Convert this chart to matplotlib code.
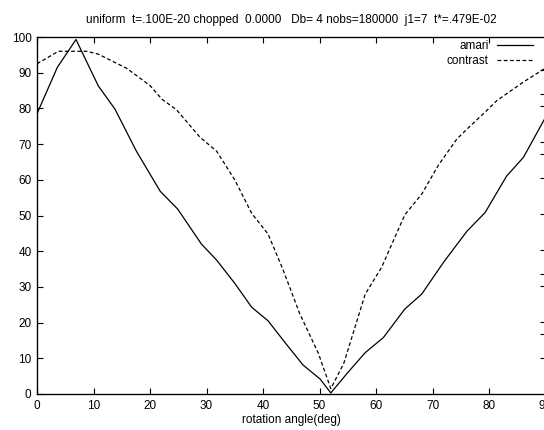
import numpy as np
import matplotlib
matplotlib.use("Agg")
import matplotlib.pyplot as plt

plt.rcParams['font.family'] = ['Liberation Sans', 'DejaVu Sans']
plt.rcParams['font.size'] = 8.5

# values
amari_x = [0, 3.6, 6.9, 10.85, 13.8, 17.6, 21.8, 24.9, 29.1, 31.8, 35.0, 38.0, 40.9,
           44.0, 47.1, 50.1, 52.0, 55.0, 58.1, 61.3, 65.1, 68.1, 72.0, 76.1, 79.3,
           83.1, 86.1, 90.0]
amari_y = [78.5, 91.5, 99.3, 86.3, 79.8, 68.0, 56.8, 51.8, 42.0, 37.5, 31.0, 24.3, 20.5,
           14.2, 8.1, 4.2, 0.3, 6.0, 11.6, 15.8, 23.8, 28.0, 37.0, 45.6, 50.8,
           61.0, 66.3, 77.5]

contrast_x = [0, 3.8, 8.8, 10.85, 15.9, 20.0, 22.1, 24.7, 28.8, 31.8, 35.0, 38.0, 40.9,
              43.5, 46.5, 49.8, 52.0, 54.3, 58.1, 61.0, 65.1, 68.1, 71.0, 74.3, 76.1,
              79.6, 81.4, 86.1, 90.0]
contrast_y = [92.5, 96.0, 96.0, 95.2, 91.2, 86.4, 82.6, 79.6, 72.0, 68.0, 60.0, 50.6, 44.8,
              35.0, 22.5, 11.4, 1.5, 8.6, 28.0, 35.5, 50.2, 56.0, 64.0, 71.4, 74.2,
              79.4, 82.2, 87.4, 91.3]

x_ticks = np.arange(0, 91, 10)
y_ticks = np.arange(0, 101, 10)
right_ticks = [10.1, 16.8, 20.2, 30.3, 33.6, 40.3, 50.4, 60.5, 67.2, 70.6, 80.7, 84.0, 90.8]

title = "uniform  t=.100E-20 chopped  0.0000   Db= 4 nobs=180000  j1=7  t*=.479E-02"

fig = plt.figure(figsize=(5.44, 4.30), dpi=100)
ax = fig.add_axes([37 / 544, 36 / 430, 508.5 / 544, 357 / 430])

ax.plot(amari_x, amari_y, color='black', lw=0.9, label='amari')
ax.plot(contrast_x, contrast_y, color='black', lw=0.9, ls=(0, (3, 2)), label='contrast')

ax.set_xlim(0, 90)
ax.set_ylim(0, 100)
ax.set_xticks(x_ticks)
ax.set_yticks(y_ticks)
ax.tick_params(direction='in', length=4, width=0.8, top=True, right=False, pad=4)
for s in ax.spines.values():
    s.set_linewidth(0.9)

ax2 = ax.twinx()
ax2.set_ylim(0, 100)
ax2.set_yticks(right_ticks)
ax2.tick_params(direction='in', length=4, width=0.8, labelright=False)

ax.set_xlabel('rotation angle(deg)', labelpad=2)
ax.set_title(title, fontsize=8.5, pad=10)

leg = ax.legend(loc='upper right', bbox_to_anchor=(0.9754, 0.992), frameon=False,
                markerfirst=False, handlelength=3.05, handletextpad=0.7,
                labelspacing=0.25, borderpad=0, borderaxespad=0)
for col in leg._legend_handle_box.get_children():
    col.align = 'right'

fig.savefig('out.png', dpi=100)
